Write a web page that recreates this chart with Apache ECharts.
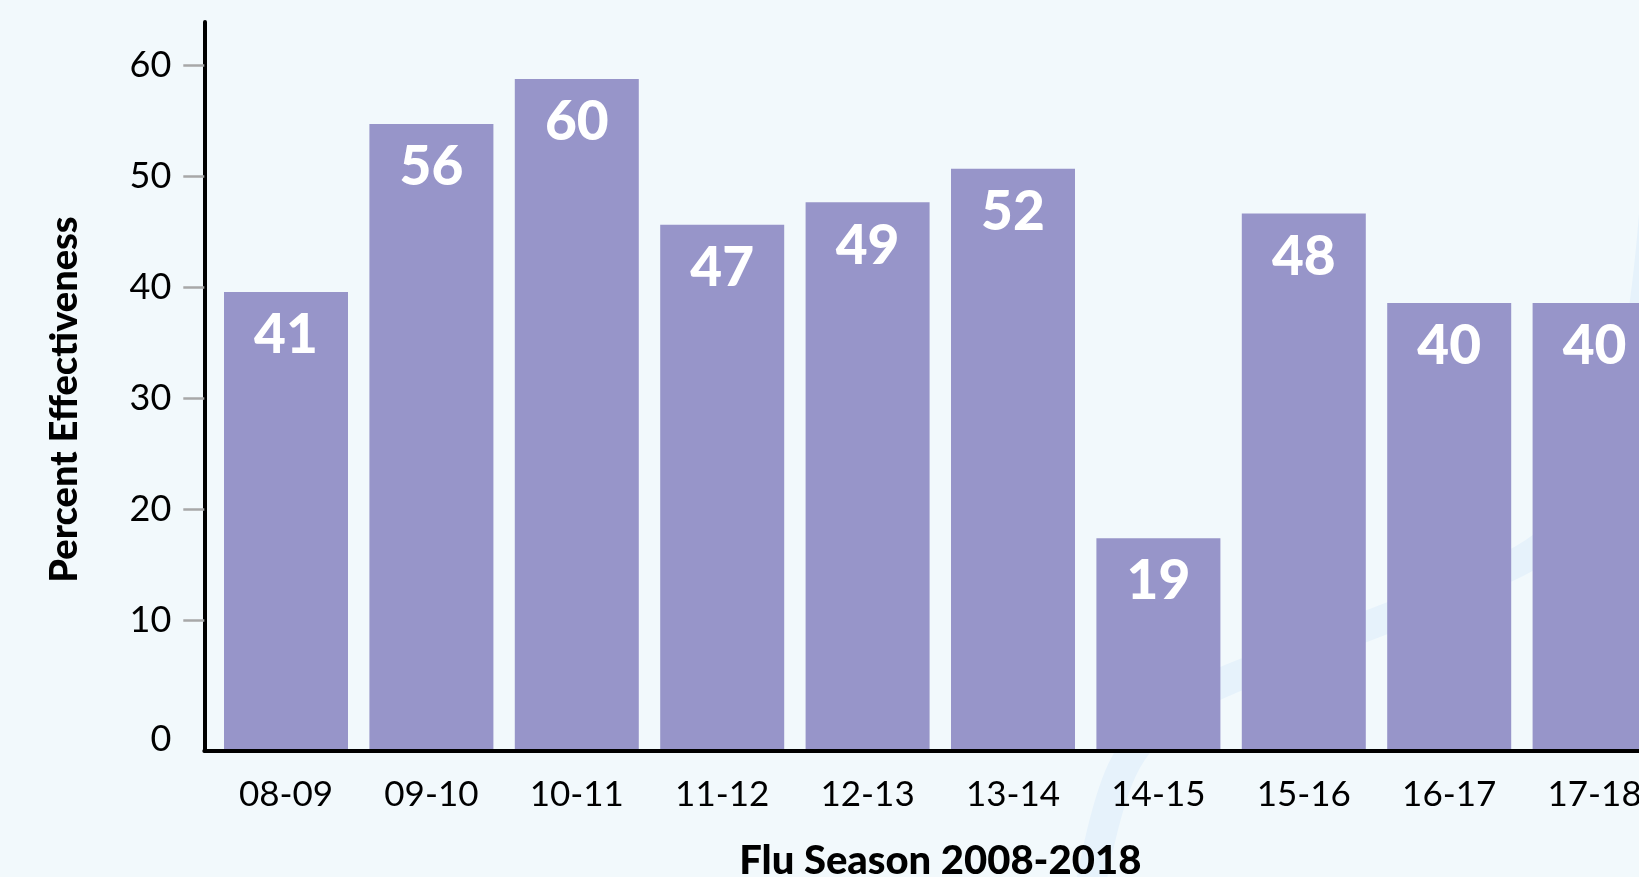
<!DOCTYPE html>
<html>
<head>
<meta charset="utf-8">
<script src="https://cdn.jsdelivr.net/npm/echarts@6/dist/echarts.min.js"></script>
<style>
html,body{margin:0;padding:0;background:#f2f9fc;}
#chart{width:1639px;height:877px;}
</style>
</head>
<body>
<div id="chart"></div>
<script>
// ---- data ----
const seasons = ['08-09','09-10','10-11','11-12','12-13','13-14','14-15','15-16','16-17','17-18'];
const effectiveness = [41, 56, 60, 47, 49, 52, 19, 48, 40, 40];
const yTickValues = [10, 20, 30, 40, 50, 60];
const yLabelValues = [0, 10, 20, 30, 40, 50, 60];
const yAxisTitle = 'Percent Effectiveness';
const xAxisTitle = 'Flu Season 2008-2018';

const chart = echarts.init(document.getElementById('chart'), null, {renderer: 'canvas'});
const labelFont = 'Lato';
const textColor = '#000000';

const option = {
  backgroundColor: '#f2f9fc',
  animation: false,
  graphic: [{
    type: 'polyline',
    silent: true,
    z: -10,
    shape: {
      points: [[1088, 900], [1122, 770], [1180, 705], [1300, 652], [1450, 592], [1560, 530], [1630, 380], [1655, 200]],
      smooth: 0.35
    },
    style: {stroke: '#e6f2fb', lineWidth: 30, fill: null}
  }],
  grid: [
    {left: 213.3, width: 1454, top: 22, height: 729, outerBoundsMode: 'none', containLabel: false},
    {left: 204.3, width: 1463, top: 22, height: 729, outerBoundsMode: 'none', containLabel: false}
  ],
  xAxis: [
    {
      type: 'category', gridIndex: 0, data: seasons,
      axisLine: {show: false}, axisTick: {show: false},
      axisLabel: {margin: 26, fontFamily: labelFont, fontSize: 35, fontWeight: 400, color: textColor},
      name: xAxisTitle, nameLocation: 'middle', nameGap: 90,
      nameTextStyle: {fontFamily: labelFont, fontWeight: 900, fontSize: 40, color: textColor}
    },
    {
      type: 'value', gridIndex: 1, min: 0, max: 1, z: 5,
      axisLine: {show: true, onZero: false, lineStyle: {color: '#000000', width: 4}},
      axisTick: {show: false}, axisLabel: {show: false}, splitLine: {show: false}
    }
  ],
  yAxis: [
    {type: 'value', gridIndex: 0, min: 0, max: 65.1, show: false, splitLine: {show: false}},
    {
      type: 'value', gridIndex: 1, min: -1.765, max: 63.9, z: 5,
      axisLine: {show: true, onZero: false, lineStyle: {color: '#000000', width: 4}},
      axisTick: {show: true, length: 21, customValues: yTickValues, lineStyle: {color: '#a8a8a8', width: 2.5}},
      axisLabel: {
        customValues: yLabelValues, margin: 33,
        fontFamily: labelFont, fontSize: 36, fontWeight: 400, color: textColor,
        formatter: function (v) { return v === 0 ? '{z|0}' : String(v); },
        rich: {z: {padding: [15, 0, 0, 0], fontFamily: labelFont, fontSize: 36, fontWeight: 400, color: textColor}}
      },
      splitLine: {show: false},
      name: yAxisTitle, nameLocation: 'middle', nameGap: 121, nameRotate: 90,
      nameTextStyle: {fontFamily: labelFont, fontWeight: 900, fontSize: 38, color: textColor, padding: [0, 26, 0, 0]}
    }
  ],
  series: [{
    type: 'bar', xAxisIndex: 0, yAxisIndex: 0,
    data: effectiveness,
    barWidth: 124,
    itemStyle: {color: '#9795c9'},
    label: {
      show: true, position: 'insideTop', distance: 16,
      color: '#ffffff', fontFamily: labelFont, fontWeight: 900, fontSize: 55
    }
  }]
};
chart.setOption(option);
</script>
</body>
</html>
